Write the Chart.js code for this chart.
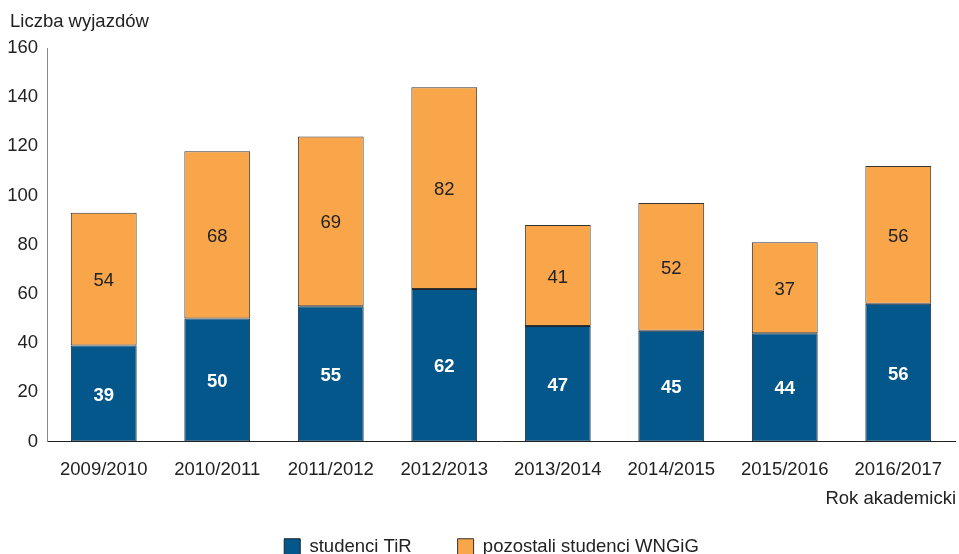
<!DOCTYPE html>
<html>
<head>
<meta charset="utf-8">
<script src="https://cdn.jsdelivr.net/npm/chart.js@4"></script>
<style>
  html,body{margin:0;padding:0;background:#fff;}
  #wrap{width:959px;height:554px;position:relative;}
</style>
</head>
<body>
<div id="wrap"><canvas id="chart" width="959" height="554"></canvas></div>
<script>
const years = ["2009/2010","2010/2011","2011/2012","2012/2013","2013/2014","2014/2015","2015/2016","2016/2017"];
const tir = [39,50,55,62,47,45,44,56];
const others = [54,68,69,82,41,52,37,56];
const yTicks = [0,20,40,60,80,100,120,140,160];

const FONT = "'Liberation Sans', Arial, sans-serif";
const FS = 18.5;

// value labels in the middle of each segment
const valueLabels = {
  id:"valueLabels",
  afterDatasetsDraw(chart){
    const ctx = chart.ctx;
    ctx.save();
    ctx.textAlign = "center";
    ctx.textBaseline = "middle";
    chart.data.datasets.forEach((ds,di)=>{
      chart.getDatasetMeta(di).data.forEach((bar,i)=>{
        const p = bar.getProps(["x","y","base"],true);
        ctx.font = (di===0?"bold ":"")+FS+"px "+FONT;
        ctx.fillStyle = di===0?"#ffffff":"#222222";
        ctx.fillText(ds.data[i], p.x, (p.y+p.base)/2+2);
      });
    });
    ctx.restore();
  }
};

// axis titles
const axisTitles = {
  id:"axisTitles",
  afterLayout(chart){ chart.legend.left += 24; }, // legend sits a bit right of centre
  afterDraw(chart){
    const ctx = chart.ctx;
    ctx.save();
    ctx.font = FS+"px "+FONT;
    ctx.fillStyle = "#222";
    ctx.textBaseline = "middle";
    ctx.textAlign = "left";
    ctx.fillText("Liczba wyjazdów", 10, 22);
    ctx.textAlign = "right";
    ctx.fillText("Rok akademicki", 956, 499);
    ctx.restore();
  }
};

new Chart(document.getElementById("chart"),{
  type:"bar",
  data:{
    labels:years,
    datasets:[
      {label:"studenci TiR",data:tir,backgroundColor:"#03578a",borderColor:"#1a2530",borderWidth:1,borderSkipped:false},
      {label:"pozostali studenci WNGiG",data:others,backgroundColor:"#f9a64b",borderColor:"#333333",borderWidth:1,borderSkipped:false}
    ]
  },
  options:{
    responsive:false,
    animation:false,
    layout:{padding:{top:48,right:0,left:0,bottom:-12}},
    datasets:{bar:{barPercentage:0.58,categoryPercentage:1}},
    scales:{
      x:{
        stacked:true,
        grid:{display:false,drawTicks:false},
        border:{display:true,color:"#222",width:1},
        ticks:{color:"#222",font:{family:FONT,size:FS},padding:17,maxRotation:0},
        afterFit(s){ s.height = 50; }
      },
      y:{
        stacked:true,
        min:0,max:160,
        afterBuildTicks(s){ s.ticks = yTicks.map(v=>({value:v})); },
        grid:{display:false,drawTicks:false},
        border:{display:true,color:"#888",width:1},
        ticks:{color:"#222",font:{family:FONT,size:FS},padding:9},
        afterFit(s){ s.width = 47; }
      }
    },
    plugins:{
      legend:{
        position:"bottom",
        labels:{
          color:"#222",
          font:{family:FONT,size:FS},
          boxWidth:16,boxHeight:16,
          padding:46
        }
      },
      tooltip:{enabled:false}
    }
  },
  plugins:[valueLabels,axisTitles]
});
</script>
</body>
</html>
